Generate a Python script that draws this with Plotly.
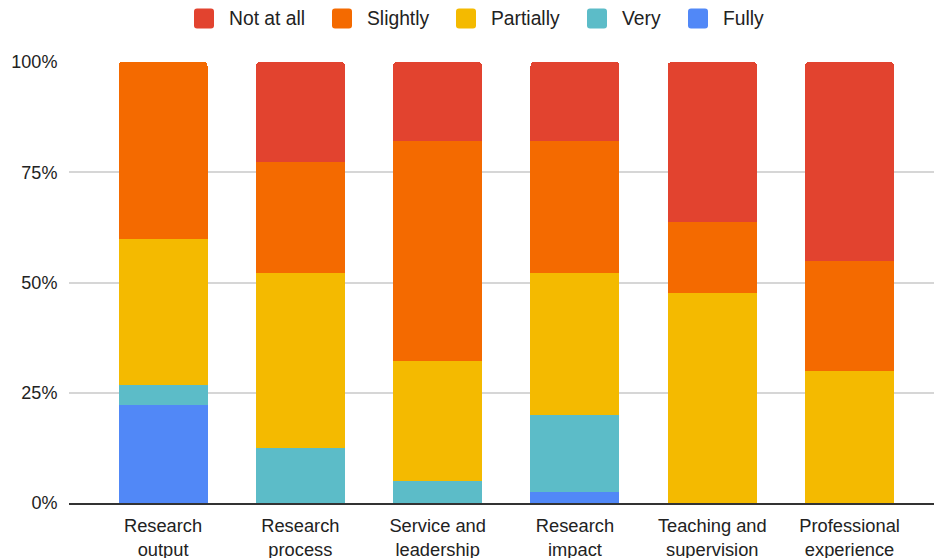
import plotly.graph_objects as go

categories = ["Research<br>output", "Research<br>process", "Service and<br>leadership",
              "Research<br>impact", "Teaching and<br>supervision", "Professional<br>experience"]
series_names = ["Not at all", "Slightly", "Partially", "Very", "Fully"]
not_at_all = [0, 22.7, 17.8, 17.8, 36.2, 45.1]
slightly = [40.2, 25.1, 49.9, 30.0, 16.1, 24.9]
partially = [33.0, 39.7, 27.3, 32.2, 47.7, 30.0]
very = [4.5, 12.5, 5.0, 17.6, 0, 0]
fully = [22.3, 0, 0, 2.4, 0, 0]
tick_vals = [0, 25, 50, 75, 100]
tick_text = ["0%", "25%", "50%", "75%", "100%"]

colors = {"Not at all": "#E2432F", "Slightly": "#F46A00", "Partially": "#F4BA00",
          "Very": "#5CBCC8", "Fully": "#5188F7"}
values = {"Not at all": not_at_all, "Slightly": slightly, "Partially": partially,
          "Very": very, "Fully": fully}

FONT = "Liberation Sans, Arial, sans-serif"
W, H = 935, 558
L, R, T, B = 69, 1, 61.5, 54.5
pw = W - L - R
ph = H - T - B

fig = go.Figure()
for name in reversed(series_names):
    fig.add_trace(go.Bar(
        x=list(range(len(categories))), y=values[name], name=name,
        marker=dict(color=colors[name], line=dict(width=0)),
        width=0.648, showlegend=False,
    ))

# custom legend (rounded squares + labels)
legend_px = [194, 332, 456, 587, 688]
sq = 20
r = 3
for name, px in zip(series_names, legend_px):
    ax = (px - L) / pw
    ay = (H - B - 18) / ph
    h2 = sq / 2
    path = (f"M {r},{-h2} L {sq - r},{-h2} Q {sq},{-h2} {sq},{-h2 + r} L {sq},{h2 - r} "
            f"Q {sq},{h2} {sq - r},{h2} L {r},{h2} Q 0,{h2} 0,{h2 - r} L 0,{-h2 + r} Q 0,{-h2} {r},{-h2} Z")
    fig.add_shape(type="path", path=path, xref="paper", yref="paper",
                  xsizemode="pixel", ysizemode="pixel", xanchor=ax, yanchor=ay,
                  fillcolor=colors[name], line=dict(width=0))
    fig.add_annotation(x=(px + 33 - L) / pw, y=ay, xref="paper", yref="paper",
                       text=name, showarrow=False, xanchor="left", yanchor="middle",
                       font=dict(family=FONT, size=19.3, color="#222222"))

fig.update_layout(
    width=W, height=H,
    margin=dict(l=L, r=R, t=T, b=B, pad=0, autoexpand=False),
    barmode="stack",
    barcornerradius=4,
    paper_bgcolor="white", plot_bgcolor="white",
    font=dict(family=FONT, size=18, color="#222222"),
    showlegend=False,
    xaxis=dict(
        tickmode="array", tickvals=list(range(len(categories))), ticktext=categories,
        range=[-0.685, 5.615], showgrid=False, showline=True, linecolor="#333333",
        linewidth=1.5, ticks="outside", ticklen=5, tickcolor="rgba(0,0,0,0)",
        tickfont=dict(size=18.3, color="#222222"), zeroline=False, fixedrange=True,
        automargin=False,
    ),
    yaxis=dict(
        range=[0, 100], tickvals=tick_vals, ticktext=tick_text,
        showgrid=True, gridcolor="#D6D6D6", gridwidth=1.5, zeroline=False,
        ticks="outside", ticklen=7, tickcolor="rgba(0,0,0,0)",
        tickfont=dict(size=18, color="#222222"), fixedrange=True,
        automargin=False,
    ),
)

fig.write_html("out.html", config={"displayModeBar": False},
               post_script="document.body.style.margin='0';document.body.style.overflow='hidden';")
